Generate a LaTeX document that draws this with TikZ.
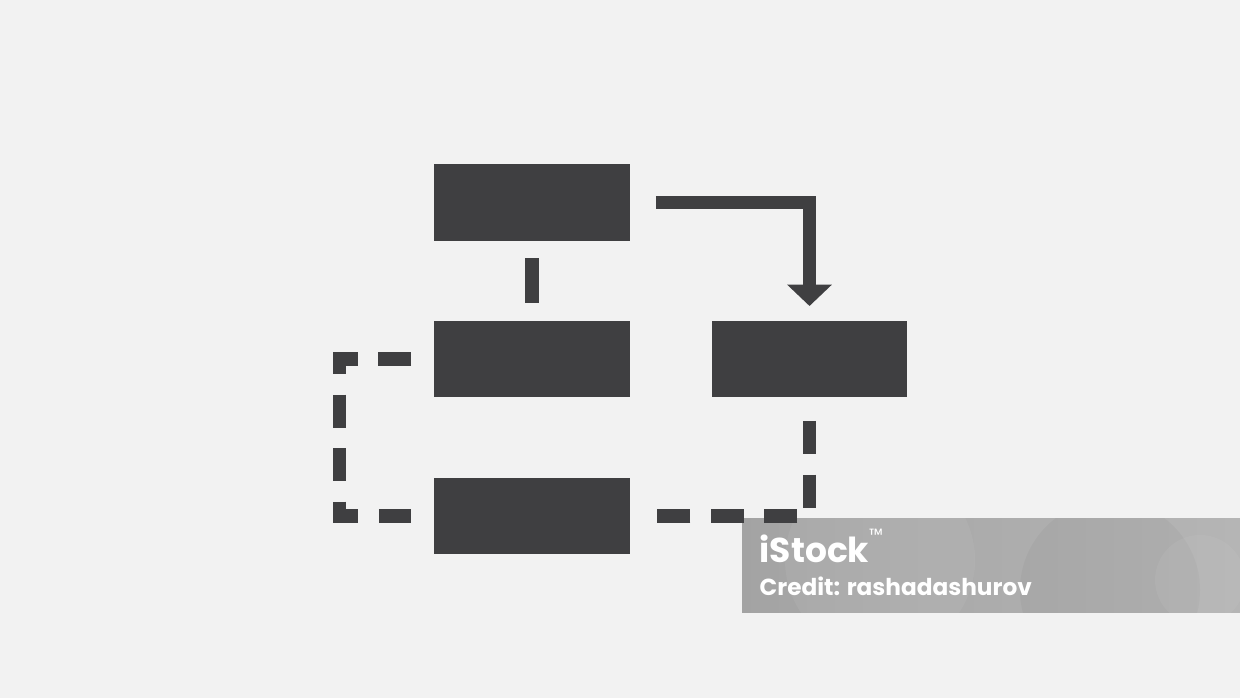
\documentclass[tikz,border=0pt]{standalone}
\usepackage{fontspec}
\newfontfamily\wmfont{Poppins}
\usetikzlibrary{arrows.meta}
\definecolor{boxgray}{HTML}{3F3F41}
\definecolor{bggray}{HTML}{F2F2F2}
\tikzset{
  block/.style={fill=boxgray,minimum width=1.955cm,minimum height=0.765cm,inner sep=0pt},
  link/.style={draw=boxgray,line width=0.135cm},
  dashlink/.style={link,dash pattern=on 0.33cm off 0.205cm},
  wmtext/.style={anchor=base west,inner sep=0pt,text=white,font=\wmfont\bfseries},
}

\begin{document}
\begin{tikzpicture}[x=0.01cm,y=-0.01cm]
\fill[bggray] (0,0) rectangle (1240,698);
\useasboundingbox (0,0) rectangle (1240,698);
\node (top) at (532,202.3) [block]{};
\node (midleft) at (532,359) [block]{};
\node (midright) at (809.5,359) [block]{};
\node (bottom) at (532,516) [block]{};
\draw[link,shorten <=0.17cm,shorten >=0.17cm] (top) -- (midleft);
\draw[link,-{Triangle[width=0.434cm,length=0.213cm]},shorten <=0.253cm,shorten >=0.14cm] (top.east) -| (midright.north);
\begin{scope}
\clip (742,519) rectangle (1240,612.7);
\shade[left color=gray!72,right color=gray!58] (742,519) rectangle (1240,612.7);
\fill[white,opacity=0.06] (880,560) circle (95);
\fill[black,opacity=0.03] (1110,590) circle (90);
\fill[white,opacity=0.05] (1200,580) circle (45);
\end{scope}
\node (brand) at (759,562.7) [wmtext,font=\wmfont\bfseries\fontsize{9.8}{12}\selectfont]{iStock\raisebox{1.1ex}{\tiny\mdseries ™}};
\node (credit) at (759,596) [wmtext,font=\wmfont\bfseries\fontsize{6.6}{8}\selectfont]{Credit: rashadashurov};
\draw[dashlink,miter limit=4,shorten <=0.223cm,shorten >=0.223cm] (midleft.west) -- ++(-93.8,0) |- (bottom.west);
\draw[dashlink,shorten <=0.23cm,shorten >=0.253cm] (midright.south) |- (bottom.east);
\end{tikzpicture}
\end{document}
